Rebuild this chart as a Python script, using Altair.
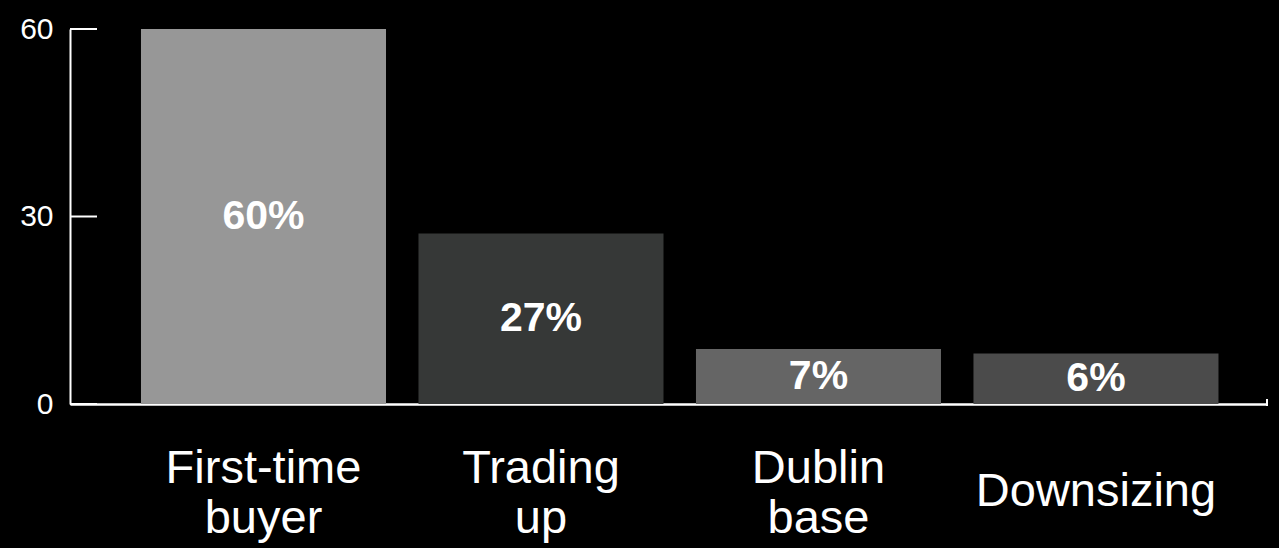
import altair as alt
import pandas as pd

categories = ["First-time buyer", "Trading up", "Dublin base", "Downsizing"]
values = [60, 27.3, 8.8, 8.1]
value_labels = ["60%", "27%", "7%", "6%"]
y_ticks = [0, 30, 60]
bar_colors = ["#979797", "#363837", "#656565", "#4b4b4b"]

FONT = "Liberation Sans"
W, H = 1197, 375

df = pd.DataFrame({"category": categories, "value": values, "label": value_labels})
df_ticks = pd.DataFrame({"value": y_ticks})

x_scale = alt.Scale(domain=categories, paddingInner=0.117, paddingOuter=0.2153, align=0.594)
y_scale = alt.Scale(domain=[0, 60], nice=False, zero=True)

x_axis = alt.Axis(
    title=None, labelAngle=0, labelExpr="split(datum.label, ' ')",
    labelFont=FONT, labelFontSize=47, labelColor="white", labelLineHeight=50,
    labelBaseline={"condition": {"test": "indexof(datum.label, ' ') >= 0", "value": "middle"}, "value": "top"},
    labelAlign="center", labelPadding=64, labelLimit=0,
    labelOverlap=False, labelFlush=False, ticks=False, tickSize=0,
    domainColor="white", domainWidth=2.5, grid=False,
)
y_axis = alt.Axis(
    title=None, values=y_ticks, ticks=False, tickSize=0, labelPadding=17,
    labelFont=FONT, labelFontSize=30, labelColor="white", labelBaseline="middle",
    domainColor="white", domainWidth=2, grid=False,
)

bars = alt.Chart(df).mark_bar().encode(
    x=alt.X("category:N", scale=x_scale, axis=x_axis, sort=categories, title=None),
    y=alt.Y("value:Q", scale=y_scale, axis=y_axis, title=None),
    color=alt.Color("category:N", scale=alt.Scale(domain=categories, range=bar_colors), legend=None),
)

texts = alt.Chart(df).transform_calculate(mid="datum.value / 2").mark_text(
    font=FONT, fontSize=41, fontWeight="bold", color="white", baseline="middle", align="center"
).encode(
    x=alt.X("category:N", scale=x_scale, axis=x_axis, sort=categories, title=None),
    y=alt.Y("mid:Q", scale=y_scale, axis=y_axis, title=None),
    text="label:N",
)

tick_rules = alt.Chart(df_ticks).mark_rule(color="white", strokeWidth=2).encode(
    y=alt.Y("value:Q", scale=y_scale, axis=y_axis, title=None),
    x=alt.value(0),
    x2=alt.value(27),
)

end_cap = alt.Chart(df_ticks).transform_filter("datum.value == 0").mark_rule(color="white", strokeWidth=2).encode(
    x=alt.value(W),
    y=alt.value(H - 5),
    y2=alt.value(H + 2),
)

chart = alt.layer(bars, texts, tick_rules, end_cap).properties(
    width=W, height=H,
    autosize=alt.AutoSizeParams(type="none"),
    padding={"left": 70, "top": 29, "right": 12, "bottom": 144},
    background="black",
).configure_view(stroke=None)

chart.save("out.html", embed_options={"renderer": "svg", "actions": False})
